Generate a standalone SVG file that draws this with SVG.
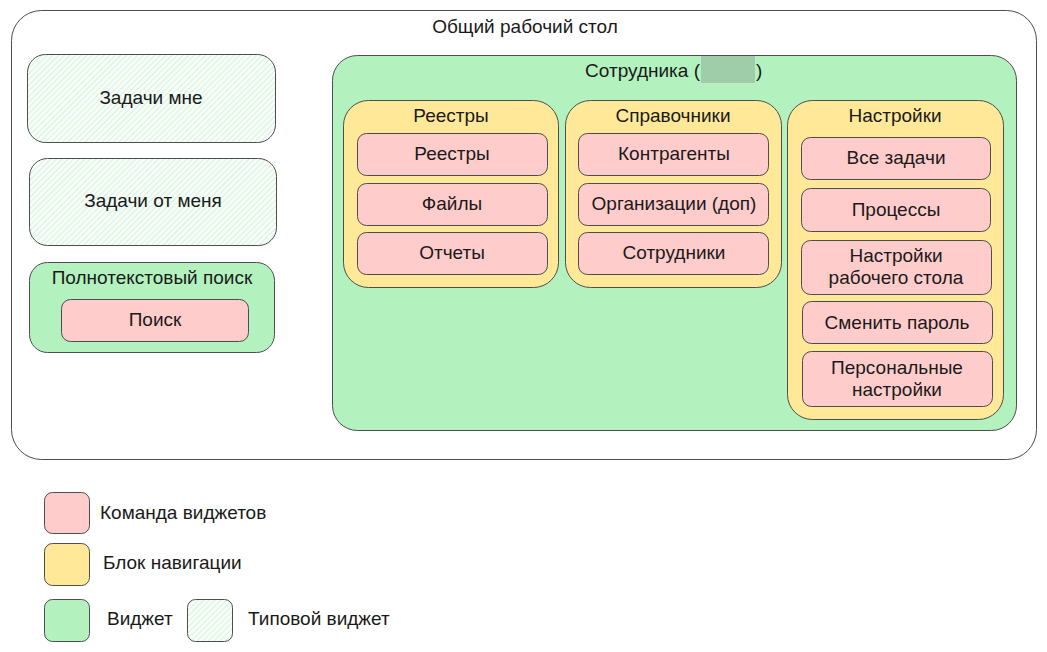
<svg xmlns="http://www.w3.org/2000/svg" width="1047" height="652" viewBox="0 0 1047 652">
<defs>
<pattern id="hatch" patternUnits="userSpaceOnUse" width="4" height="4" patternTransform="rotate(45)">
<rect width="4" height="4" fill="#f8fdf9"/>
<line x1="0" y1="0" x2="0" y2="4" stroke="#cdf1d4" stroke-width="1.6"/>
</pattern>
</defs>
<style>
text{font-family:"Liberation Sans",Arial,sans-serif;font-size:19px;fill:#1a1a1a;text-anchor:middle;dominant-baseline:central}
.lt{text-anchor:start}
.rt{text-anchor:end}
.pink{fill:#ffcccc;stroke:#4d4d4d;stroke-width:1}
.yel{fill:#ffe999;stroke:#4d4d4d;stroke-width:1}
.grn{fill:#b3f2be;stroke:#4d4d4d;stroke-width:1}
.typ{fill:url(#hatch);stroke:#4d4d4d;stroke-width:1}
.out{fill:#ffffff;stroke:#4d4d4d;stroke-width:1}
</style>
<rect width="1047" height="652" fill="#ffffff"/>
<g id="desktop">
<rect class="out" x="11.5" y="10.5" width="1025" height="449" rx="30"/>
<text x="525" y="26">Общий рабочий стол</text>
</g>
<g id="tasks-me">
<rect class="typ" x="27.5" y="54.5" width="248" height="88" rx="18"/>
<text x="151" y="97">Задачи мне</text>
</g>
<g id="tasks-from-me">
<rect class="typ" x="29.5" y="158.5" width="247" height="87" rx="18"/>
<text x="153" y="200">Задачи от меня</text>
</g>
<g id="fulltext">
<rect class="grn" x="29.5" y="262.5" width="245" height="90" rx="18"/>
<text x="152" y="277">Полнотекстовый поиск</text>
</g>
<g id="search">
<rect class="pink" x="61.5" y="299.5" width="187" height="42" rx="9"/>
<text x="155" y="319">Поиск</text>
</g>
<g id="employee">
<rect class="grn" x="332.5" y="55.5" width="684" height="375" rx="25"/>
<text class="rt" x="700" y="70">Сотрудника (</text>
<rect x="701" y="56" width="54" height="27" fill="#9fcca9"/>
<text class="lt" x="756" y="70">)</text>
</g>
<g id="registries">
<rect class="yel" x="343.5" y="100.5" width="215" height="187" rx="25"/>
<text x="451" y="115">Реестры</text>
</g>
<g id="cmd-registries">
<rect class="pink" x="357.5" y="133.5" width="190" height="42" rx="9"/>
<text x="452" y="153">Реестры</text>
</g>
<g id="cmd-files">
<rect class="pink" x="357.5" y="183.5" width="190" height="42" rx="9"/>
<text x="452" y="203">Файлы</text>
</g>
<g id="cmd-reports">
<rect class="pink" x="357.5" y="232.5" width="190" height="42" rx="9"/>
<text x="452" y="252">Отчеты</text>
</g>
<g id="references">
<rect class="yel" x="565.5" y="100.5" width="216" height="187" rx="25"/>
<text x="673" y="115">Справочники</text>
</g>
<g id="cmd-contractors">
<rect class="pink" x="578.5" y="133.5" width="190" height="42" rx="9"/>
<text x="674" y="153">Контрагенты</text>
</g>
<g id="cmd-orgs">
<rect class="pink" x="578.5" y="183.5" width="190" height="42" rx="9"/>
<text x="674" y="203">Организации (доп)</text>
</g>
<g id="cmd-employees">
<rect class="pink" x="578.5" y="232.5" width="190" height="42" rx="9"/>
<text x="674" y="252">Сотрудники</text>
</g>
<g id="settings">
<rect class="yel" x="787.5" y="100.5" width="216" height="319" rx="25"/>
<text x="895" y="115">Настройки</text>
</g>
<g id="cmd-all-tasks">
<rect class="pink" x="801.5" y="137.5" width="189" height="42" rx="9"/>
<text x="896" y="157">Все задачи</text>
</g>
<g id="cmd-processes">
<rect class="pink" x="801.5" y="188.5" width="189" height="43" rx="9"/>
<text x="896" y="209">Процессы</text>
</g>
<g id="cmd-desk-settings">
<rect class="pink" x="801.5" y="240.5" width="190" height="54" rx="9"/>
<text x="896" y="255">Настройки</text>
<text x="896" y="277">рабочего стола</text>
</g>
<g id="cmd-password">
<rect class="pink" x="802.5" y="301.5" width="190" height="42" rx="9"/>
<text x="897" y="322">Сменить пароль</text>
</g>
<g id="cmd-personal">
<rect class="pink" x="802.5" y="351.5" width="190" height="55" rx="9"/>
<text x="897" y="367">Персональные</text>
<text x="897" y="389">настройки</text>
</g>
<g id="connectors"></g>
<g id="legend">
<rect class="pink" x="44.5" y="492.5" width="45" height="41" rx="8"/>
<text class="lt" x="100" y="512">Команда виджетов</text>
<rect class="yel" x="44.5" y="543.5" width="45" height="42" rx="8"/>
<text class="lt" x="103" y="562">Блок навигации</text>
<rect class="grn" x="44.5" y="599.5" width="45" height="42" rx="8"/>
<text class="lt" x="107" y="618">Виджет</text>
<rect class="typ" x="187.5" y="599.5" width="45" height="42" rx="8"/>
<text class="lt" x="248" y="618">Типовой виджет</text>
</g>
</svg>
